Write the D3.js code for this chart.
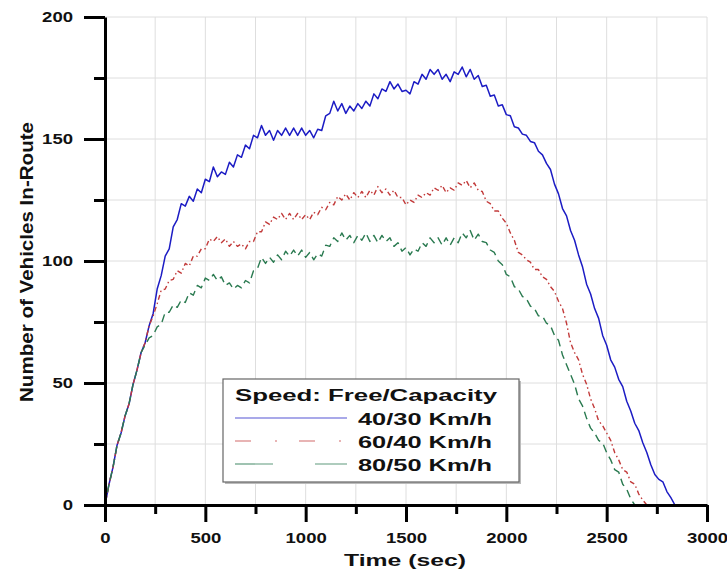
<!DOCTYPE html>
<html>
<head>
<meta charset="utf-8">
<script src="https://cdn.jsdelivr.net/npm/d3@7"></script>
<style>
  html, body { margin: 0; padding: 0; background: #fff; }
  svg { display: block; }
  text { font-family: "Liberation Sans", Arial, sans-serif; font-weight: bold; fill: #111; }
</style>
</head>
<body>
<svg id="chart" width="727" height="569"></svg>
<script>
// ---------------- DATA ----------------
const timeSec = [0,20,40,60,80,100,120,140,160,180,200,220,240,260,280,300,320,340,360,380,
  400,420,440,460,480,500,520,540,560,580,600,620,640,660,680,700,720,740,760,780,
  800,820,840,860,880,900,920,940,960,980,1000,1020,1040,1060,1080,1100,1120,1140,1160,1180,
  1200,1220,1240,1260,1280,1300,1320,1340,1360,1380,1400,1420,1440,1460,1480,1500,1520,1540,1560,1580,
  1600,1620,1640,1660,1680,1700,1720,1740,1760,1780,1800,1820,1840,1860,1880,1900,1920,1940,1960,1980,
  2000,2020,2040,2060,2080,2100,2120,2140,2160,2180,2200,2220,2240,2260,2280,2300,2320,2340,2360,2380,
  2400,2420,2440,2460,2480,2500,2520,2540,2560,2580,2600,2620,2640,2660,2680,2700,2720,2740,2760,2780,
  2800,2820,2840];

// Speed 40/30 Km/h
const speed40_30 = [0,8.5,15.5,24.5,29.5,36.5,41.5,49.5,55.5,62.5,66.5,73.5,78.5,88.5,94,102,105,114,117,123.5,
  122.5,126.5,124.5,129.5,128,133.5,132.5,138.5,134.5,136.5,135.5,140.5,138.5,143.5,142.5,147.5,146,151.5,150.5,155.5,
  151.5,153.5,149.5,153.5,151.5,154.5,151.5,154.5,151.5,154.5,151.5,153.5,150.5,154,153.5,159.5,160.5,165.5,161.5,164.5,
  160.5,163.5,161.5,164.5,162.5,165.5,163.5,168.5,166.5,170.5,169.5,173.5,170.5,172.5,169.5,170,168.5,173.5,172.5,176.5,
  174.5,178.5,176.5,178.5,174.5,176.5,173.5,177.5,176.5,179.5,175.5,178.5,174.5,176,171.5,172,167.5,168,163.5,164,
  160,159.5,155,154.5,152,151.5,149,148.5,145,143.5,140,137.5,131.5,127.5,121.5,118.5,112.5,108.5,102.5,97.5,
  90.5,86.5,80.5,76.5,69.5,65.5,59.5,56.5,51.5,48.5,42.5,38.5,33.5,30.5,25.5,21.5,16.5,12.5,10.5,9.5,
  5.5,3,0];

// Speed 60/40 Km/h
const speed60_40 = [0,8.5,15.5,24.5,29.5,36.5,41.5,49.5,55.5,62.5,66.5,73.5,77.5,82.5,88,88.5,92,92.5,96,95,
  99,98,102,102,105,105,109,108,110,107.5,109,106,108,106,107,105,108,108,112,112,
  116,115,118,117,119.5,117,119.5,117,119.5,117,119,117,120,119,122,121,124,123,126.5,125,
  127.5,125,128,126,128.5,126,129,127,130.5,128,129.5,127,129,126,126,123,125,124,127,126,
  128,127,130,129,131,128,130,129,132,131,133,130,132,129,128.5,124.5,123.5,120.5,120.5,117.5,
  115.5,111.5,108.5,103.5,102.5,100.5,99.5,96.5,96.5,93.5,92.5,89.5,87.5,83.5,80.5,74.5,66.5,62.5,59.5,53.5,
  49.5,43.5,39.5,34.5,32.5,29.5,26.5,21.5,18.5,14.5,13.5,9.5,8.5,4.5,2,0];

// Speed 80/50 Km/h
const speed80_50 = [0,8.5,15.5,24.5,29.5,36.5,41.5,49.5,55.5,62.5,65.5,68.5,69.5,73,74,79,79,82,81,84,
  83,87,86,90,89,93,92,94.5,92,93.5,90,91,88.5,90,89,92,91,96,97,101.5,
  99,101.5,99.5,102.5,100.5,104,102,104.5,102,104.5,101.5,103.5,100.5,103,102,106.5,106,109.5,108,111.5,
  108.5,110.5,107.5,110.5,108.5,111.5,108,110.5,107.5,110.5,108,109.5,106,107.5,104,105.5,102.5,105,104,107.5,
  106,109.5,107.5,109.5,106.5,109.5,106.5,109.5,107.5,111.5,109.5,112.5,108.5,111,108,107.5,104.5,103.5,100,98.5,
  94.5,93.5,89.5,88.5,85.5,84.5,81.5,80.5,77.5,77.5,74.5,73.5,69.5,67.5,61.5,57.5,53.5,49.5,43.5,40.5,
  35.5,31.5,29.5,26.5,25.5,21.5,18.5,14.5,13.5,8.5,6.5,2.5,0];

const seriesNames = ["40/30 Km/h", "60/40 Km/h", "80/50 Km/h"];
const legendTitle = "Speed: Free/Capacity";
const xTicksMajor = [0,500,1000,1500,2000,2500,3000];
const xTicksMinor = [250,750,1250,1750,2250,2750];
const yTicksMajor = [0,50,100,150,200];
const yTicksMinor = [25,75,125,175];
const xGrid = [250,500,750,1000,1250,1500,1750,2000,2250,2500,2750,3000];
const yGrid = [25,50,75,100,125,150,175,200];
const xTitle = "Time (sec)";
const yTitle = "Number of Vehicles In-Route";

// ---------------- DRAW ----------------
const svg = d3.select("#chart");
const x = d3.scaleLinear().domain([0, 3000]).range([105, 707]);
const y = d3.scaleLinear().domain([0, 200]).range([505, 17]);

const styles = [
  { color: "#1c1cc4", width: 1.5, dash: null, legendDash: null },
  { color: "#c23a3a", width: 1.4, dash: "5,3,1.5,3", legendDash: "16,24,2,22" },
  { color: "#2a7a50", width: 1.4, dash: "8,5", legendDash: "38,42" }
];
const seriesData = [speed40_30, speed60_40, speed80_50];

// gridlines
svg.append("g").selectAll("line").data(xGrid).join("line")
  .attr("x1", d => x(d)).attr("x2", d => x(d))
  .attr("y1", y(0)).attr("y2", y(200))
  .attr("stroke", "#dedede").attr("stroke-width", 1);
svg.append("g").selectAll("line").data(yGrid).join("line")
  .attr("x1", x(0)).attr("x2", x(3000))
  .attr("y1", d => y(d)).attr("y2", d => y(d))
  .attr("stroke", "#dedede").attr("stroke-width", 1);

// series
const line = d3.line().x((d, i) => x(timeSec[i])).y(d => y(d));
seriesData.forEach((vals, k) => {
  svg.append("path")
    .datum(vals)
    .attr("d", line)
    .attr("fill", "none")
    .attr("stroke", styles[k].color)
    .attr("stroke-width", styles[k].width)
    .attr("stroke-linejoin", "round")
    .attr("stroke-dasharray", styles[k].dash);
});

// axes
function styleAxis(g) {
  g.selectAll(".domain").attr("stroke", "#000").attr("stroke-width", 3);
  g.selectAll(".tick line").attr("stroke", "#000").attr("stroke-width", 3);
  g.selectAll(".tick text")
    .style("font-size", "14px").style("font-weight", "bold")
    .attr("fill", "#111")
    .attr("textLength", function () { return this.textContent.length * 10.3; })
    .attr("lengthAdjust", "spacingAndGlyphs");
}
const yMinor = svg.append("g").attr("transform", `translate(${x(0)},0)`)
  .call(d3.axisLeft(y).tickValues(yTicksMinor).tickSize(11).tickSizeOuter(0).tickFormat(""));
yMinor.select(".domain").remove();
styleAxis(yMinor);
const xMinor = svg.append("g").attr("transform", `translate(0,${y(0)})`)
  .call(d3.axisBottom(x).tickValues(xTicksMinor).tickSize(9).tickSizeOuter(0).tickFormat(""));
xMinor.select(".domain").remove();
styleAxis(xMinor);

const yAxis = svg.append("g").attr("transform", `translate(${x(0)},0)`)
  .call(d3.axisLeft(y).tickValues(yTicksMajor).tickSize(21).tickSizeOuter(0).tickPadding(11).tickFormat(d3.format("d")));
styleAxis(yAxis);
const xAxis = svg.append("g").attr("transform", `translate(0,${y(0)})`)
  .call(d3.axisBottom(x).tickValues(xTicksMajor).tickSize(17).tickSizeOuter(0).tickPadding(11).tickFormat(d3.format("d")));
styleAxis(xAxis);

// axis titles
svg.append("text")
  .attr("x", 405).attr("y", 566)
  .attr("text-anchor", "middle")
  .style("font-size", "17px")
  .attr("textLength", 122).attr("lengthAdjust", "spacingAndGlyphs")
  .text(xTitle);
svg.append("text")
  .attr("transform", "translate(33,262) rotate(-90)")
  .attr("text-anchor", "middle")
  .style("font-size", "19px")
  .attr("textLength", 280).attr("lengthAdjust", "spacingAndGlyphs")
  .text(yTitle);

// legend
const lg = svg.append("g");
lg.append("rect").attr("x", 225).attr("y", 381).attr("width", 296).attr("height", 103)
  .attr("fill", "#bbb");
lg.append("rect").attr("x", 223).attr("y", 379).attr("width", 296).attr("height", 103)
  .attr("fill", "#fff").attr("stroke", "#666").attr("stroke-width", 1.2);
lg.append("text").attr("x", 235).attr("y", 401)
  .style("font-size", "16px")
  .attr("textLength", 262).attr("lengthAdjust", "spacingAndGlyphs")
  .text(legendTitle);
seriesNames.forEach((name, k) => {
  const yy = 418 + k * 23;
  lg.append("line").attr("x1", 235).attr("x2", 347).attr("y1", yy).attr("y2", yy)
    .attr("stroke", styles[k].color).attr("stroke-width", 1.2)
    .attr("stroke-opacity", 0.75)
    .attr("stroke-dasharray", styles[k].legendDash);
  lg.append("text").attr("x", 358).attr("y", yy + 7)
    .style("font-size", "17px")
    .attr("textLength", 134).attr("lengthAdjust", "spacingAndGlyphs")
    .text(name);
});
</script>
</body>
</html>
